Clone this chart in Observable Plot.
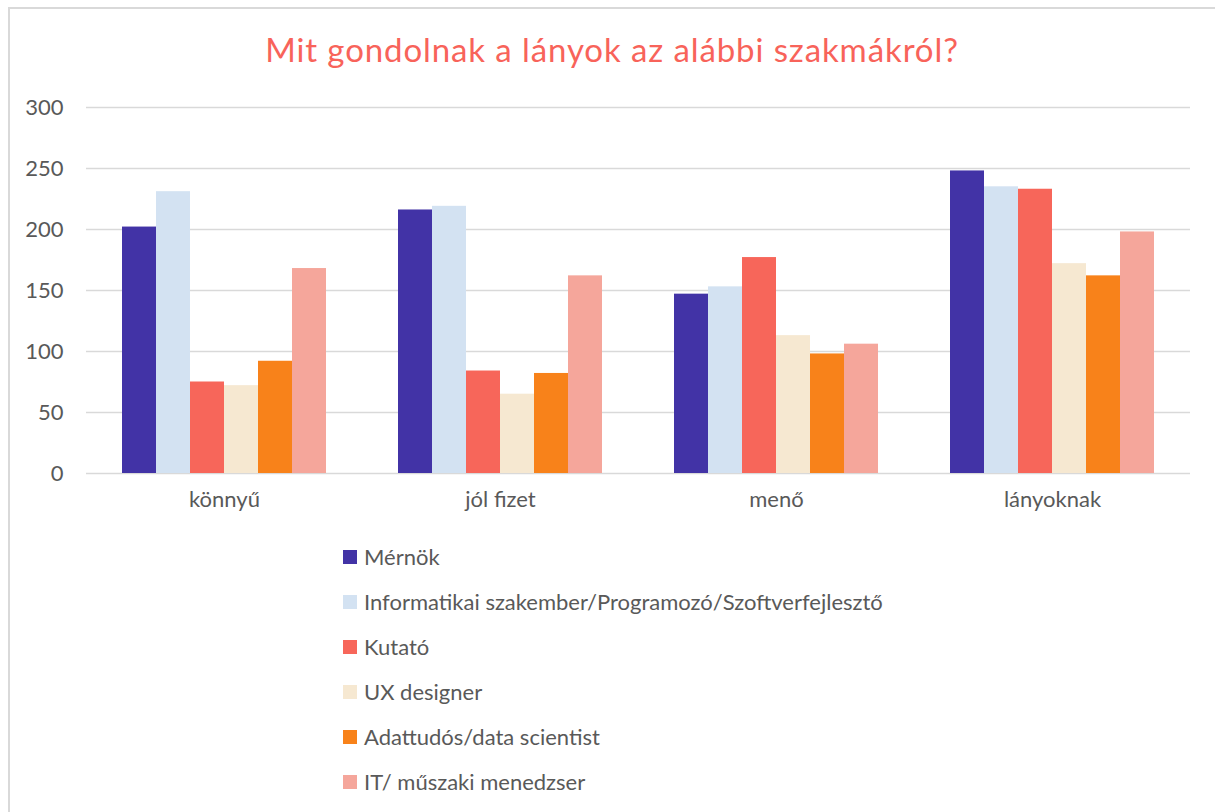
<!DOCTYPE html>
<html>
<head>
<meta charset="utf-8">
<script src="https://cdn.jsdelivr.net/npm/d3@7"></script>
<script src="https://cdn.jsdelivr.net/npm/@observablehq/plot@0.6"></script>
<style>
  html, body { margin: 0; padding: 0; background: #fff; }
  body { width: 1215px; height: 812px; overflow: hidden; position: relative; font-family: Lato, "Open Sans", sans-serif; }
  #frame { position: absolute; left: 8px; top: 7px; width: 1300px; height: 900px; border-left: 2px solid #d9d9d9; border-top: 2px solid #d9d9d9; }
  #title { position: absolute; left: 9px; right: 0; top: 29px; text-align: center; font-size: 33px; letter-spacing: 0.9px; color: #f8635a; white-space: nowrap; }
  #chart { position: absolute; left: 0; top: 80px; }
  #legend { position: absolute; left: 343px; top: 534px; }
  .row { height: 45px; display: flex; align-items: center; font-size: 22px; color: #595959; white-space: nowrap; }
  .sw { width: 14px; height: 14px; margin-right: 7px; flex: none; }
</style>
</head>
<body>
<div id="frame"></div>
<div id="title">Mit gondolnak a lányok az alábbi szakmákról?</div>
<div id="chart"></div>
<div id="legend"></div>
<script>
const categories = ["könnyű", "jól fizet", "menő", "lányoknak"];
const series = [
  "Mérnök",
  "Informatikai szakember/Programozó/Szoftverfejlesztő",
  "Kutató",
  "UX designer",
  "Adattudós/data scientist",
  "IT/ műszaki menedzser"
];
const colors = ["#4233a6", "#d3e2f2", "#f7665a", "#f6e8d1", "#f8821a", "#f5a69b"];
const yTicks = [0, 50, 100, 150, 200, 250, 300];

// values per series, in category order
const mernok   = [202, 216, 147, 248];
const infoSzak = [231, 219, 153, 235];
const kutato   = [75, 84, 177, 233];
const uxDesign = [72, 65, 113, 172];
const adattud  = [92, 82, 98, 162];
const itMened  = [168, 162, 106, 198];

const seriesValues = [mernok, infoSzak, kutato, uxDesign, adattud, itMened];
const data = [];
categories.forEach((c, ci) => {
  series.forEach((s, si) => data.push({cat: c, series: s, value: seriesValues[si][ci]}));
});

const chart = Plot.plot({
  width: 1215,
  height: 443,
  marginTop: 27,
  marginBottom: 50,
  marginLeft: 85,
  marginRight: 25,
  style: {fontFamily: "Lato, 'Open Sans', sans-serif", fontSize: "22px", color: "#595959", background: "transparent"},
  fx: {domain: categories, padding: 0, label: null, axis: "bottom", tickSize: 0, tickPadding: 18},
  x: {domain: series, axis: null, paddingInner: 0, paddingOuter: 1.05},
  y: {domain: [0, 300], ticks: yTicks, tickSize: 0, tickPadding: 23, label: null},
  color: {domain: series, range: colors},
  marks: [
    Plot.ruleY(yTicks, {stroke: "#d9d9d9", strokeWidth: 1.5}),
    Plot.barY(data, {fx: "cat", x: "series", y: "value", fill: "series"})
  ]
});
document.getElementById("chart").appendChild(chart);

const legend = document.getElementById("legend");
series.forEach((s, i) => {
  const row = document.createElement("div");
  row.className = "row";
  const sw = document.createElement("div");
  sw.className = "sw";
  sw.style.background = colors[i];
  const t = document.createElement("span");
  t.textContent = s;
  row.appendChild(sw);
  row.appendChild(t);
  legend.appendChild(row);
});
</script>
</body>
</html>
